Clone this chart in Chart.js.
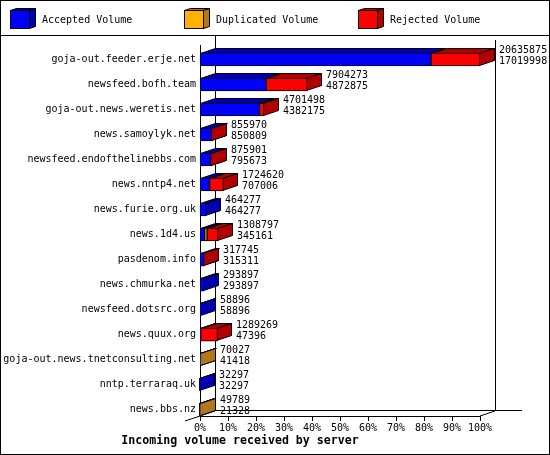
<!DOCTYPE html>
<html>
<head>
<meta charset="utf-8">
<script src="https://cdn.jsdelivr.net/npm/chart.js@4.4.0/dist/chart.umd.min.js"></script>
<style>
html, body { margin: 0; padding: 0; background: #fff; }
canvas { display: block; }
</style>
</head>
<body>
<canvas id="volumeChart" width="550" height="455"></canvas>
<script>
// incoming volume per server
var servers = [
    'goja-out.feeder.erje.net', 'newsfeed.bofh.team', 'goja-out.news.weretis.net',
    'news.samoylyk.net', 'newsfeed.endofthelinebbs.com', 'news.nntp4.net',
    'news.furie.org.uk', 'news.1d4.us', 'pasdenom.info', 'news.chmurka.net',
    'newsfeed.dotsrc.org', 'news.quux.org', 'goja-out.news.tnetconsulting.net',
    'nntp.terraraq.uk', 'news.bbs.nz'
];
var offered    = [20635875, 7904273, 4701498, 855970, 875901, 1724620, 464277, 1308797, 317745, 293897, 58896, 1289269, 70027, 32297, 49789];
var accepted   = [17019998, 4872875, 4382175, 850809, 795673, 707006, 464277, 345161, 315311, 293897, 58896, 47396, 41418, 32297, 21328];
var duplicated = [0, 0, 0, 0, 0, 0, 0, 180000, 0, 0, 0, 0, 28609, 0, 28461];
var rejected   = [3615877, 3031398, 319323, 5161, 80228, 1017614, 0, 783636, 2434, 0, 0, 1241873, 0, 0, 0];
var seriesNames = ['Accepted Volume', 'Duplicated Volume', 'Rejected Volume'];
var xTicks = [0, 10, 20, 30, 40, 50, 60, 70, 80, 90, 100];

var frontColors = ['#0000ff', '#ffb000', '#ff0000'];
var sideColors  = ['#0000b0', '#b07818', '#b00000'];
var FONT = '"DejaVu Sans Mono", monospace';
var depthX = 15, depthY = 5;

var maxOffered = Math.max.apply(null, offered);
function toPct(arr) {
    return arr.map(function(v) { return v / maxOffered * 100; });
}

// 画一个多边形面
function face(ctx, pts, fill) {
    ctx.beginPath();
    ctx.moveTo(pts[0][0], pts[0][1]);
    for (var i = 1; i < pts.length; i++) ctx.lineTo(pts[i][0], pts[i][1]);
    ctx.closePath();
    ctx.fillStyle = fill;
    ctx.fill();
    ctx.stroke();
}

function line(ctx, x1, y1, x2, y2) {
    ctx.beginPath();
    ctx.moveTo(x1, y1);
    ctx.lineTo(x2, y2);
    ctx.stroke();
}

var boxes3d = {
    id: 'boxes3d',
    beforeDraw: function(chart) {
        var ctx = chart.ctx;
        ctx.save();
        ctx.fillStyle = '#fff';
        ctx.fillRect(0, 0, chart.width, chart.height);
        ctx.strokeStyle = '#000';
        ctx.lineWidth = 1;
        ctx.strokeRect(0.5, 0.5, chart.width - 1, chart.height - 1);
        line(ctx, 0, 35.5, chart.width, 35.5);
        // legend
        ctx.font = '10px ' + FONT;
        ctx.textBaseline = 'middle';
        ctx.textAlign = 'left';
        chart.data.datasets.forEach(function(ds, i) {
            var lx = 10 + i * 174;
            face(ctx, [[lx + 0.5, 10.5], [lx + 19.5, 10.5], [lx + 25.5, 8.5], [lx + 6.5, 8.5]], sideColors[i]);
            face(ctx, [[lx + 19.5, 10.5], [lx + 25.5, 8.5], [lx + 25.5, 26.5], [lx + 19.5, 28.5]], sideColors[i]);
            ctx.fillStyle = ds.backgroundColor;
            ctx.fillRect(lx, 10, 20, 19);
            ctx.strokeRect(lx + 0.5, 10.5, 19, 18);
            ctx.fillStyle = '#000';
            ctx.fillText(ds.label, lx + 32, 20);
        });
        ctx.restore();
    },
    beforeDatasetsDraw: function(chart) {
        var ctx = chart.ctx;
        var xs = chart.scales.x;
        var left = xs.getPixelForValue(0), right = xs.getPixelForValue(100);
        var lastMeta = chart.getDatasetMeta(0).data;
        var floorY = Math.round(lastMeta[lastMeta.length - 1].y + 6.5);
        ctx.save();
        ctx.strokeStyle = '#000';
        ctx.lineWidth = 1;
        // back wall and floor
        line(ctx, left + depthX + 0.5, 36, left + depthX + 0.5, floorY - depthY);
        line(ctx, right + depthX + 0.5, 40, right + depthX + 0.5, floorY - depthY);
        line(ctx, left + depthX, floorY - depthY - 0.5, right + depthX + 27, floorY - depthY - 0.5);
        line(ctx, left - depthX, floorY + depthY, left + depthX, floorY - depthY);
        line(ctx, right, floorY, right + depthX, floorY - depthY);
        line(ctx, left + 0.5, 45, left + 0.5, floorY);
        line(ctx, left, floorY + 0.5, right, floorY + 0.5);
        xTicks.forEach(function(t) {
            var px = Math.round(xs.getPixelForValue(t)) + 0.5;
            line(ctx, px, floorY, px, floorY + 5);
        });
        // top and side faces of every stacked segment
        for (var r = 0; r < servers.length; r++) {
            for (var d = 0; d < chart.data.datasets.length; d++) {
                if (!chart.data.datasets[d].data[r]) continue;
                var el = chart.getDatasetMeta(d).data[r];
                var p = el.getProps(['x', 'y', 'base', 'height'], true);
                var b = Math.round(Math.min(p.base, p.x)) + 0.5;
                var e = Math.round(Math.max(p.base, p.x)) - 0.5;
                var t = Math.round(p.y - p.height / 2) + 0.5;
                var bt = Math.round(p.y + p.height / 2) - 0.5;
                face(ctx, [[b, t], [e, t], [e + depthX, t - depthY], [b + depthX, t - depthY]], sideColors[d]);
                face(ctx, [[e, t], [e + depthX, t - depthY], [e + depthX, bt - depthY], [e, bt]], sideColors[d]);
            }
        }
        ctx.restore();
    },
    afterDatasetsDraw: function(chart) {
        var ctx = chart.ctx;
        var xs = chart.scales.x;
        var meta = chart.getDatasetMeta(0).data;
        ctx.save();
        ctx.font = '10px ' + FONT;
        ctx.fillStyle = '#000';
        ctx.textAlign = 'left';
        ctx.textBaseline = 'middle';
        for (var r = 0; r < servers.length; r++) {
            var endX = Math.round(xs.getPixelForValue(offered[r] / maxOffered * 100));
            var cy = meta[r].y;
            ctx.fillText(String(offered[r]), endX + depthX + 4, cy - 9);
            ctx.fillText(String(accepted[r]), endX + depthX + 4, cy + 1.5);
        }
        ctx.restore();
    }
};

var datasets = [accepted, duplicated, rejected].map(function(arr, i) {
    return {
        label: seriesNames[i],
        data: toPct(arr),
        backgroundColor: frontColors[i],
        borderColor: '#000',
        borderWidth: 1,
        borderSkipped: false,
        barThickness: 13
    };
});

new Chart(document.getElementById('volumeChart'), {
    type: 'bar',
    data: { labels: servers, datasets: datasets },
    options: {
        responsive: false,
        animation: false,
        devicePixelRatio: 1,
        indexAxis: 'y',
        layout: { padding: { top: 47, right: 70, bottom: 7, left: 0 } },
        plugins: {
            legend: { display: false },
            tooltip: { enabled: false },
            title: {
                display: true,
                position: 'bottom',
                text: 'Incoming volume received by server',
                color: '#000',
                font: { family: FONT, size: 11.6, weight: 'bold', lineHeight: 1.2 },
                padding: { top: 0, bottom: 0 }
            }
        },
        scales: {
            x: {
                stacked: true,
                min: 0,
                max: 100,
                grid: { display: false, drawTicks: false },
                border: { display: false },
                afterFit: function(s) { s.height = 12; },
                ticks: {
                    stepSize: 10,
                    padding: 0,
                    maxRotation: 0,
                    autoSkip: false,
                    color: '#000',
                    font: { family: FONT, size: 10 },
                    callback: function(v) { return v + '%'; }
                }
            },
            y: {
                stacked: true,
                grid: { display: false, drawTicks: false },
                border: { display: false },
                afterFit: function(s) { s.width = 200; },
                ticks: {
                    padding: 4,
                    autoSkip: false,
                    color: '#000',
                    font: { family: FONT, size: 10 }
                }
            }
        }
    },
    plugins: [boxes3d]
});
</script>
</body>
</html>
